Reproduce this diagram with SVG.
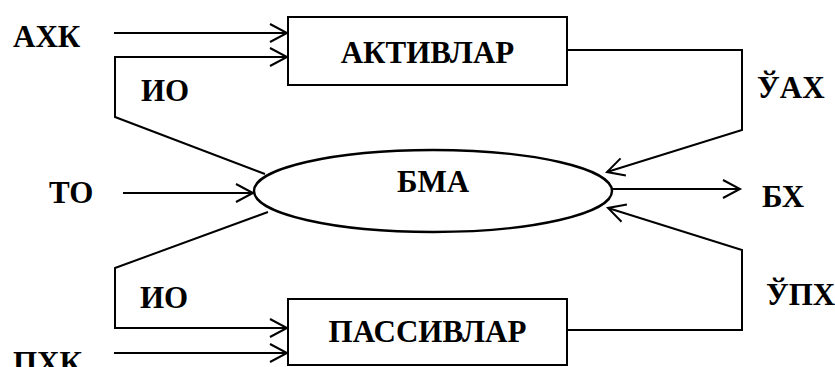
<svg xmlns="http://www.w3.org/2000/svg" width="835" height="367" viewBox="0 0 835 367">
<style>
.box{fill:#fff;stroke:#000;stroke-width:2}
.ell{fill:#fff;stroke:#000;stroke-width:2.4}
.c{fill:none;stroke:#000;stroke-width:2;marker-end:url(#ah)}
text{font-family:'Liberation Serif','DejaVu Serif','Noto Serif',serif;font-weight:bold;font-size:31px;fill:#000}
.m{text-anchor:middle}
</style>
<defs>
<marker id="ah" markerUnits="userSpaceOnUse" markerWidth="24" markerHeight="24" refX="18" refY="10" orient="auto" viewBox="0 0 24 20">
<path d="M1,1 L18,10 L1,19" fill="none" stroke="#000" stroke-width="2"/>
</marker>
</defs>
<rect width="835" height="367" fill="#fff"/>
<g id="connectors">
<path class="c" d="M114,33 L287,33"/>
<path class="c" d="M265,174 L115,117 L115,57 L287,57"/>
<path class="c" d="M123,193 L253,193"/>
<path class="c" d="M567,50 L742,50 L742,130 L607,172"/>
<path class="c" d="M612,189 L740,189"/>
<path class="c" d="M567,330 L742,330 L742,250 L608,208"/>
<path class="c" d="M268,212 L115,268 L115,328 L287,328"/>
<path class="c" d="M114,353 L287,353"/>
</g>
<g id="aktivlar">
<rect class="box" x="288" y="17" width="279" height="68"/>
<text class="m" x="427.5" y="63">АКТИВЛАР</text>
</g>
<g id="passivlar">
<rect class="box" x="288" y="299" width="279" height="66"/>
<text class="m" x="427.5" y="342">ПАССИВЛАР</text>
</g>
<g id="bma">
<ellipse class="ell" cx="433" cy="191" rx="179" ry="41"/>
<text class="m" x="433" y="192">БМА</text>
</g>
<g id="labels">
<text x="13" y="47">АХК</text>
<text x="141" y="101">ИО</text>
<text x="757" y="98">ЎАХ</text>
<text x="49" y="203">ТО</text>
<text x="762" y="207">БХ</text>
<text x="140" y="308">ИО</text>
<text x="766" y="305">ЎПХ</text>
<text x="13" y="373">ПХК</text>
</g>
</svg>
